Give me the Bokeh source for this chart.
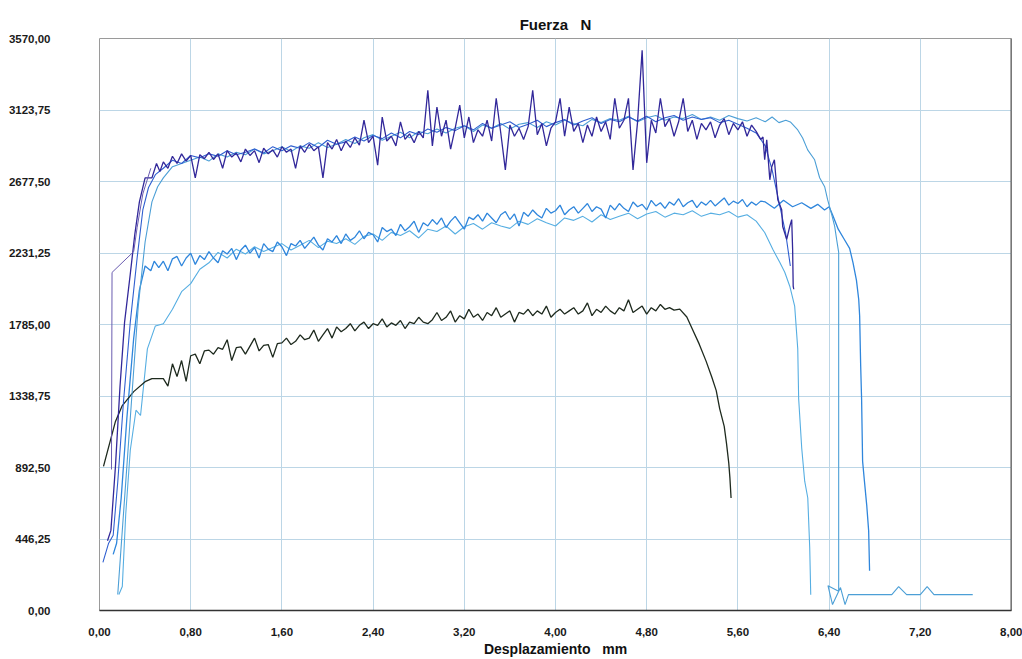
from bokeh.plotting import figure
from bokeh.models import Range1d, FixedTicker, Span
from bokeh.embed import file_html
from bokeh.resources import INLINE

# ---------------- axis ticks / labels ----------------
x_ticks = [0.0, 0.8, 1.6, 2.4, 3.2, 4.0, 4.8, 5.6, 6.4, 7.2, 8.0]
x_tick_labels = ["0,00", "0,80", "1,60", "2,40", "3,20", "4,00", "4,80",
                 "5,60", "6,40", "7,20", "8,00"]
y_ticks = [0.0, 446.25, 892.5, 1338.75, 1785.0, 2231.25, 2677.5, 3123.75, 3570.0]
y_tick_labels = ["0,00", "446,25", "892,50", "1338,75", "1785,00", "2231,25",
                 "2677,50", "3123,75", "3570,00"]

# ---------------- shared plateau sampling (mm) ----------------
x_plat = [
    0.56, 0.60, 0.64, 0.68, 0.72, 0.76, 0.80, 0.84, 0.88, 0.92,
    0.96, 1.00, 1.04, 1.08, 1.12, 1.16, 1.20, 1.24, 1.28, 1.32,
    1.36, 1.40, 1.44, 1.48, 1.52, 1.56, 1.60, 1.64, 1.68, 1.72,
    1.76, 1.80, 1.84, 1.88, 1.92, 1.96, 2.00, 2.04, 2.08, 2.12,
    2.16, 2.20, 2.24, 2.28, 2.32, 2.36, 2.40, 2.44, 2.48, 2.52,
    2.56, 2.60, 2.64, 2.68, 2.72, 2.76, 2.80, 2.84, 2.88, 2.92,
    2.96, 3.00, 3.04, 3.08, 3.12, 3.16, 3.20, 3.24, 3.28, 3.32,
    3.36, 3.40, 3.44, 3.48, 3.52, 3.56, 3.60, 3.64, 3.68, 3.72,
    3.76, 3.80, 3.84, 3.88, 3.92, 3.96, 4.00, 4.04, 4.08, 4.12,
    4.16, 4.20, 4.24, 4.28, 4.32, 4.36, 4.40, 4.44, 4.48, 4.52,
    4.56, 4.60, 4.64, 4.68, 4.72, 4.76, 4.80, 4.84, 4.88, 4.92,
    4.96, 5.00, 5.04, 5.08, 5.12, 5.16, 5.20, 5.24, 5.28, 5.32,
    5.36, 5.40, 5.44, 5.48, 5.52, 5.56, 5.60, 5.64, 5.68, 5.72,
    5.76, 5.80,
]
x_plat2 = x_plat[::2]

# ---------------- T1: navy, spiky top curve ----------------
t1_rise_x = [0.07, 0.10, 0.14, 0.18, 0.22, 0.27, 0.31, 0.35, 0.40, 0.46, 0.50, 0.53]
t1_rise_y = [435, 500, 900, 1400, 1800, 2100, 2350, 2550, 2700, 2700, 2790, 2740]
t1_plat_y = [
    2800, 2760, 2835, 2790, 2850, 2805, 2840, 2700, 2845, 2820,
    2860, 2815, 2850, 2760, 2870, 2830, 2855, 2800, 2880, 2840,
    2870, 2795, 2885, 2850, 2875, 2830, 2895, 2860, 2880, 2760,
    2900, 2860, 2910, 2870, 2895, 2700, 2920, 2880, 2940, 2870,
    2930, 2890, 2950, 2905, 3060, 2920, 2960, 2780, 3080, 2930,
    2960, 2900, 3050, 2940, 2975, 2920, 2990, 2950, 3247, 2900,
    3142, 2960, 3060, 2880, 3010, 3154, 2950, 3080, 2920, 3000,
    2960, 3060, 2930, 3197, 2980, 2750, 3030, 2960, 3010, 2940,
    3020, 3247, 2970, 3040, 2900, 3010, 3050, 3197, 2960, 3142,
    2990, 3040, 2920, 3030, 2960, 3080, 2990, 3050, 2940, 3197,
    3010, 3060, 3197, 2750, 3050, 3496, 2794, 3060, 2980, 3197,
    3020, 3070, 2960, 3050, 3197, 2990, 3060, 2940, 3040, 3000,
    3050, 2950, 3030, 3070, 2970, 3040, 3000, 3050, 2960, 3030,
    2990, 2940,
]
t1_tail_x = [5.82, 5.835, 5.853, 5.88, 5.897, 5.92, 5.94, 5.95, 5.984, 5.993,
             6.028, 6.055, 6.072, 6.08, 6.085, 6.09]
t1_tail_y = [2955, 2813, 2937, 2688, 2769, 2813, 2645, 2564, 2502, 2397,
             2316, 2397, 2440, 2254, 2024, 2005]

# ---------------- T2: royal blue top curve ----------------
t2_rise_x = [0.03, 0.08, 0.12, 0.16, 0.21, 0.27, 0.33, 0.38, 0.43, 0.49]
t2_rise_y = [300, 420, 470, 800, 1300, 1800, 2200, 2500, 2640, 2720]
t2_plat_y = [
    2760, 2810, 2790, 2840, 2825, 2850, 2835, 2870, 2845, 2860,
    2880, 2855, 2895, 2870, 2900, 2885, 2920, 2890, 2935, 2910,
    2925, 2955, 2930, 2965, 2945, 2980, 2950, 2990, 2970, 3005,
    2985, 3015, 2995, 3025, 3000, 3040, 3010, 3030, 3050, 3015,
    3035, 3060, 3020, 3045, 3065, 3030, 3055, 3075, 3040, 3065,
    3050, 3080, 3055, 3085, 3050, 3075, 3090, 3060, 3080, 3065,
    3075, 3045, 3060, 3035, 3010, 2980,
]
t2_tail_x = [5.84, 5.90, 5.96, 6.02, 6.06]
t2_tail_y = [2900, 2750, 2550, 2350, 2150]

# ---------------- T3: light blue top curve (longest) ----------------
t3_rise_x = [0.16, 0.18, 0.22, 0.28, 0.34, 0.40, 0.46, 0.51]
t3_rise_y = [100, 300, 700, 1300, 1900, 2300, 2550, 2645]
t3_plat_y = [
    2700, 2770, 2790, 2810, 2830, 2805, 2850, 2830, 2860, 2845,
    2880, 2850, 2870, 2895, 2865, 2900, 2885, 2920, 2890, 2910,
    2940, 2915, 2950, 2970, 2935, 2960, 2985, 2950, 2990, 2975,
    3005, 2980, 3010, 3025, 2990, 3030, 3010, 3040, 3005, 3035,
    3045, 3015, 3050, 3030, 3060, 3040, 3025, 3065, 3045, 3070,
    3060, 3085, 3050, 3075, 3090, 3060, 3080, 3070, 3095, 3065,
    3080, 3060, 3090, 3070, 3055, 3075,
]
t3_tail_x = [5.84, 5.90, 5.96, 6.02, 6.06, 6.125, 6.168, 6.212, 6.273, 6.317,
             6.361, 6.387, 6.423, 6.449, 6.466, 6.484, 6.484, 6.39, 6.43, 6.50,
             6.54, 6.57, 6.95, 7.01, 7.08, 7.20, 7.26, 7.32, 7.66]
t3_tail_y = [3050, 3080, 3045, 3060, 3049, 2999, 2949, 2875, 2813, 2701,
             2645, 2564, 2471, 2397, 2316, 2235, 120, 155, 37, 143,
             37, 99, 99, 149, 99, 99, 149, 99, 99]

# ---------------- M1: blue middle curve ----------------
m1_rise_x = [0.12, 0.15, 0.19, 0.24, 0.30, 0.35, 0.40, 0.45, 0.48, 0.52]
m1_rise_y = [350, 420, 700, 1200, 1700, 2000, 2150, 2120, 2180, 2140]
m1_plat_y = [
    2180, 2120, 2195, 2210, 2150, 2200, 2230, 2160, 2215, 2190,
    2240, 2200, 2170, 2245, 2225, 2260, 2190, 2250, 2280, 2230,
    2265, 2200, 2290, 2255, 2240, 2300, 2270, 2215, 2290, 2275,
    2310, 2260, 2295, 2330, 2280, 2250, 2320, 2300, 2340, 2290,
    2350, 2310, 2330, 2370, 2320, 2360, 2345, 2300, 2390, 2365,
    2380, 2340, 2410, 2370, 2395, 2430, 2360, 2420, 2400, 2440,
    2410, 2450, 2390, 2430, 2460, 2420, 2380, 2455, 2440, 2470,
    2430, 2480, 2450, 2420, 2470, 2490, 2440, 2475, 2400, 2485,
    2460, 2500, 2470, 2450, 2510, 2480, 2495, 2530, 2470, 2500,
    2520, 2480, 2510, 2540, 2490, 2520, 2505, 2450, 2530, 2500,
    2540, 2510, 2490, 2550, 2520, 2535, 2500, 2560, 2525, 2545,
    2510, 2550, 2530, 2570, 2520, 2545, 2560, 2515, 2550, 2530,
    2560, 2525, 2550, 2575, 2530, 2555, 2540, 2565, 2520, 2550,
    2530, 2555,
]
m1_tail_x = [5.84, 5.92, 6.00, 6.08, 6.16, 6.24, 6.30, 6.36, 6.40, 6.43,
             6.48, 6.53, 6.58, 6.61, 6.64, 6.66, 6.668, 6.677, 6.685, 6.694,
             6.71, 6.73, 6.747, 6.755]
m1_tail_y = [2550, 2510, 2560, 2520, 2545, 2510, 2535, 2500, 2520, 2470,
             2380, 2320, 2260, 2170, 2060, 1940, 1838, 1527, 1322, 931,
             807, 658, 497, 248]

# ---------------- M2: light blue middle curve (slow rise) ----------------
m2_rise_x = [0.17, 0.20, 0.23, 0.27, 0.32, 0.36, 0.42, 0.49]
m2_rise_y = [100, 150, 600, 1000, 1250, 1217, 1633, 1776]
m2_plat_y = [
    1790, 1880, 1990, 2040, 2130, 2170, 2235, 2200, 2255, 2225,
    2270, 2240, 2265, 2290, 2250, 2280, 2310, 2265, 2305, 2290,
    2320, 2285, 2335, 2350, 2310, 2360, 2340, 2370, 2325, 2380,
    2365, 2400, 2350, 2395, 2415, 2380, 2420, 2400, 2385, 2430,
    2410, 2445, 2420, 2400, 2450, 2435, 2460, 2425, 2470, 2440,
    2460, 2480, 2445, 2475, 2490, 2455, 2480, 2470, 2495, 2460,
    2480, 2470, 2490, 2455, 2470, 2430,
]
m2_tail_x = [5.835, 5.906, 5.967, 6.011, 6.055, 6.098, 6.125, 6.133, 6.16, 6.186,
             6.213, 6.23, 6.239]
m2_tail_y = [2359, 2254, 2173, 2111, 2024, 1900, 1633, 1322, 1012, 807,
             702, 391, 99]

# ---------------- B: black lower curve ----------------
b_rise_x = [0.035, 0.14, 0.20, 0.30, 0.40, 0.46, 0.52]
b_rise_y = [900, 1180, 1279, 1366, 1428, 1447, 1447]
b_plat_y = [
    1447, 1400, 1540, 1460, 1560, 1430, 1590, 1600, 1540, 1620,
    1625, 1600, 1640, 1630, 1690, 1560, 1640, 1645, 1600, 1650,
    1700, 1620, 1655, 1660, 1580, 1665, 1670, 1700, 1660, 1680,
    1720, 1690, 1700, 1750, 1680, 1720, 1760, 1700, 1770, 1740,
    1760, 1790, 1745, 1780, 1800, 1760, 1790, 1780, 1820, 1770,
    1795, 1780, 1810, 1760, 1800, 1790, 1830, 1800, 1790, 1815,
    1860, 1810, 1830, 1870, 1800, 1840, 1820, 1880, 1830, 1850,
    1810, 1860, 1840, 1890, 1830, 1850, 1870, 1800, 1860, 1850,
    1880, 1840, 1870, 1850, 1900, 1830, 1860, 1880, 1850, 1870,
    1890, 1850, 1870, 1920, 1840, 1880, 1860, 1900, 1870, 1850,
    1890, 1870, 1940, 1860, 1880, 1900, 1850, 1890, 1870, 1910,
    1880, 1890, 1875,
]
b_tail_x = [5.09, 5.152, 5.20, 5.26, 5.32, 5.37, 5.41, 5.44, 5.48, 5.50,
            5.52, 5.53, 5.54]
b_tail_y = [1881, 1832, 1757, 1664, 1558, 1459, 1372, 1260, 1149, 1043,
            919, 826, 702]

# ---------------- T0: thin purple early line ----------------
t0_x = [0.105, 0.11, 0.30, 0.33, 0.38, 0.45]
t0_y = [880, 2110, 2240, 2390, 2600, 2760]

curves = [
    ("M2", m2_rise_x + x_plat2 + m2_tail_x, m2_rise_y + m2_plat_y + m2_tail_y, "#56aee2", 1.1),
    ("M1", m1_rise_x + x_plat + m1_tail_x, m1_rise_y + m1_plat_y + m1_tail_y, "#2f86dc", 1.3),
    ("B", b_rise_x + x_plat[:113] + b_tail_x, b_rise_y + b_plat_y + b_tail_y, "#1e2a1e", 1.3),
    ("T3", t3_rise_x + x_plat2 + t3_tail_x, t3_rise_y + t3_plat_y + t3_tail_y, "#4c9fd6", 1.1),
    ("T2", t2_rise_x + x_plat2 + t2_tail_x, t2_rise_y + t2_plat_y + t2_tail_y, "#2f5fd0", 1.1),
    ("T1", t1_rise_x + x_plat + t1_tail_x, t1_rise_y + t1_plat_y + t1_tail_y, "#32289a", 1.3),
    ("T0", t0_x, t0_y, "#6a5cb0", 1.0),
]

FONT = "Liberation Sans"

p = figure(width=1022, height=659, x_range=Range1d(0, 8), y_range=Range1d(0, 3570),
           output_backend="svg", toolbar_location=None,
           min_border_left=99, min_border_right=11, min_border_top=38, min_border_bottom=46)

for name, xs, ys, col, w in curves:
    assert len(xs) == len(ys), name
    p.line(xs, ys, line_color=col, line_width=w)

# title (non-breaking spaces keep the wide gap)
p.title.text = "Fuerza\u00a0\u00a0\u00a0N"
p.title.align = "center"
p.title.vertical_align = "middle"
p.title.text_font = FONT
p.title.text_font_size = "15px"
p.title.text_font_style = "bold"
p.title.text_color = "#111111"

# x axis
p.xaxis.ticker = FixedTicker(ticks=x_ticks)
p.xaxis.major_label_overrides = dict(zip(x_ticks, x_tick_labels))
p.xaxis.major_label_text_font = FONT
p.xaxis.major_label_text_font_size = "11.5px"
p.xaxis.major_label_text_font_style = "bold"
p.xaxis.major_label_text_color = "#1a1a1a"
p.xaxis.major_label_standoff = 11
p.xaxis.major_tick_line_color = None
p.xaxis.minor_tick_line_color = None
p.xaxis.axis_line_color = "#333333"
p.xaxis.axis_line_width = 1.5
p.xaxis.axis_label = "Desplazamiento\u00a0\u00a0\u00a0mm"
p.xaxis.axis_label_text_font = FONT
p.xaxis.axis_label_text_font_size = "14px"
p.xaxis.axis_label_text_font_style = "bold"
p.xaxis.axis_label_text_color = "#111111"
p.xaxis.axis_label_standoff = 2

# y axis
p.yaxis.ticker = FixedTicker(ticks=y_ticks)
p.yaxis.major_label_overrides = dict(zip(y_ticks, y_tick_labels))
p.yaxis.major_label_text_font = FONT
p.yaxis.major_label_text_font_size = "11.5px"
p.yaxis.major_label_text_font_style = "bold"
p.yaxis.major_label_text_color = "#1a1a1a"
p.yaxis.major_label_standoff = 43
p.yaxis.major_tick_line_color = None
p.yaxis.minor_tick_line_color = None
p.yaxis.axis_line_color = None

p.grid.grid_line_color = "#bcd6e6"
p.grid.grid_line_width = 1
p.outline_line_color = "#9a9a9a"
p.outline_line_width = 1
p.add_layout(Span(location=8.0, dimension="height", line_color="#555555", line_width=2))
p.background_fill_color = "white"
p.border_fill_color = "white"

open("out.html", "w").write(file_html(p, INLINE))
